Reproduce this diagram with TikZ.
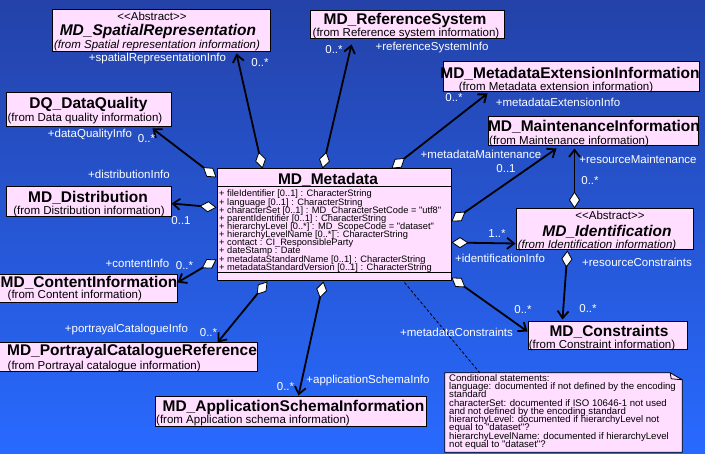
\documentclass[tikz,border=0pt]{standalone}
\usepackage{fontspec}
\setmainfont{Liberation Sans}[Ligatures=TeXOff]
\usetikzlibrary{arrows.meta}
\definecolor{bgtop}{RGB}{36,66,168}
\definecolor{bgbot}{RGB}{40,106,255}
\definecolor{clsfill}{RGB}{255,222,255}
\lineskiplimit=-20pt
\begin{document}
\begin{tikzpicture}[x=1pt,y=-1pt,
 cls/.style={draw=black, line width=1pt, fill=clsfill, inner sep=0pt, rectangle},
 ttl/.style={font=\bfseries\fontsize{15.5}{17}\selectfont, inner sep=0pt, anchor=base},
 ttli/.style={font=\bfseries\itshape\fontsize{15.5}{17}\selectfont, inner sep=0pt, anchor=base},
 sub/.style={font=\fontsize{11.5}{13}\selectfont, inner sep=0pt, anchor=base},
 subi/.style={font=\itshape\fontsize{11.5}{13}\selectfont, inner sep=0pt, anchor=base},
 role/.style={text=white, font=\fontsize{11.5}{13}\selectfont, inner sep=0pt, anchor=base},
 attr/.style={font=\fontsize{9.3}{8.15}\selectfont, inner sep=0pt, align=left, anchor=north west},
 notetxt/.style={font=\fontsize{9.6}{8.3}\selectfont, inner sep=0pt, align=left, anchor=north west},
 assoc/.style={line width=1.8pt, {Diamond[fill=white,length=17pt,width=11pt,line width=0.8pt]}-{Straight Barb[length=7pt,width=11pt]}},
]
\useasboundingbox (0,0) rectangle (705,454);
\fill[top color=bgtop, bottom color=bgbot] (0,0) rectangle (705,454);

% class boxes
\node[cls, minimum width=218, minimum height=42] (spat) at (161,31) {};
\node[cls, minimum width=165, minimum height=34] (dq) at (88.5,110) {};
\node[cls, minimum width=194, minimum height=28] (ref) at (407,25) {};
\node[cls, minimum width=256, minimum height=30] (ext) at (571,77) {};
\node[cls, minimum width=210, minimum height=29] (maint) at (593,131.5) {};
\node[cls, minimum width=177, minimum height=41] (ident) at (604.5,229.5) {};
\node[cls, minimum width=159, minimum height=28] (constr) at (607.5,336) {};
\node[cls, minimum width=165, minimum height=30] (dist) at (88.5,202) {};
\node[cls, minimum width=179, minimum height=28] (cont) at (87.5,289) {};
\node[cls, minimum width=259, minimum height=29] (portr) at (127.5,357.5) {};
\node[cls, minimum width=271, minimum height=30] (app) at (290.5,412) {};
\node[cls, minimum width=234, minimum height=112] (meta) at (334,225) {};
\draw[line width=1pt] ([shift={(0,18)}]meta.north west) -- ([shift={(0,18)}]meta.north east);
\draw[line width=1pt] ([shift={(0,-9)}]meta.south west) -- ([shift={(0,-9)}]meta.south east);

% class texts
\node[sub] (spatA) at (152,21) {<<Abstract>>};
\node[ttli] (spatT) at (158,36) {MD\_SpatialRepresentation};
\node[subi] (spatS) at (157,48.5) {(from Spatial representation information)};
\node[ttl] (dqT) at (88.5,109) {DQ\_DataQuality};
\node[sub] (dqS) at (85,122) {(from Data quality information)};
\node[ttl] (refT) at (405,25) {MD\_ReferenceSystem};
\node[sub] (refS) at (406,37) {(from Reference system information)};
\node[ttl] (extT) at (570,79) {MD\_MetadataExtensionInformation};
\node[sub] (extS) at (556,91) {(from Metadata extension information)};
\node[ttl] (maintT) at (594,132) {MD\_MaintenanceInformation};
\node[sub, anchor=base west] (maintS) at (489,145) {(from Maintenance information)};
\node[sub] (identA) at (610,220) {<<Abstract>>};
\node[ttli] (identT) at (607,237) {MD\_Identification};
\node[subi] (identS) at (597,249) {(from Identification information)};
\node[ttl] (constrT) at (609,337) {MD\_Constraints};
\node[sub] (constrS) at (602,349) {(from Constraint information)};
\node[ttl] (distT) at (88,202.5) {MD\_Distribution};
\node[sub] (distS) at (89,215) {(from Distribution information)};
\node[ttl] (contT) at (89,288) {MD\_ContentInformation};
\node[sub, anchor=base west] (contS) at (7.5,299) {(from Content information)};
\node[ttl] (portrT) at (132,356) {MD\_PortrayalCatalogueReference};
\node[sub, anchor=base west] (portrS) at (7.5,370) {(from Portrayal catalogue information)};
\node[ttl] (appT) at (293.5,412) {MD\_ApplicationSchemaInformation};
\node[sub, anchor=base west] (appS) at (156,424) {(from Application schema information)};
\node[ttl] (metaT) at (328,185) {MD\_Metadata};
\node[attr] (metaA) at (219,190) {+ fileIdentifier [0..1] : CharacterString\\
+ language [0..1] : CharacterString\\
+ characterSet [0..1] : MD\_CharacterSetCode = "utf8"\\
+ parentIdentifier [0..1] : CharacterString\\
+ hierarchyLevel [0..*] : MD\_ScopeCode = "dataset"\\
+ hierarchyLevelName [0..*] : CharacterString\\
+ contact : CI\_ResponsibleParty\\
+ dateStamp : Date\\
+ metadataStandardName [0..1] : CharacterString\\
+ metadataStandardVersion [0..1] : CharacterString};

% note
\node[minimum width=237, minimum height=79, inner sep=0pt] (note) at (563.5,412.5) {};
\filldraw[fill=clsfill, line width=0.8pt] (note.south west) -- (note.north west) -- ([shift={(-12,0)}]note.north east) -- ([shift={(0,7)}]note.north east) -- (note.south east) -- cycle;
\draw[line width=0.8pt] ([shift={(-12,0)}]note.north east) -- ([shift={(-11,6)}]note.north east) -- ([shift={(0,7)}]note.north east);
\node[notetxt] (noteT) at (449,374) {Conditional statements:\\
language: documented if not defined by the encoding\\
standard\\
characterSet: documented if ISO 10646-1 not used\\
and not defined by the encoding standard\\
hierarchyLevel: documented if hierarchyLevel not\\
equal to "dataset"?\\
hierarchyLevelName: documented if hierarchyLevel\\
not equal to "dataset"?};
\draw[line width=0.8pt, dash pattern=on 3pt off 2pt] ([shift={(188,1)}]meta.south west) -- ([shift={(35,0)}]note.north west);

% associations
\draw[assoc] ([shift={(46,0)}]meta.north west) -- ([shift={(185,1)}]spat.south west);
\draw[assoc] ([shift={(106,0)}]meta.north west) -- ([shift={(42,5)}]ref.south west);
\draw[assoc] ([shift={(175,0)}]meta.north west) -- ([shift={(45,1)}]ext.south west);
\draw[assoc] ([shift={(0,53)}]meta.north east) -- ([shift={(69,2)}]maint.south west);
\draw[assoc] ([shift={(0,74)}]meta.north east) -- ([shift={(0,-7)}]ident.south west);
\draw[assoc] ([shift={(59,0)}]ident.north west) -- ([shift={(87,2)}]maint.south west);
\draw[assoc] ([shift={(52,0)}]ident.south west) -- ([shift={(35,-2)}]constr.north west);
\draw[assoc] ([shift={(0,-4)}]meta.south east) -- ([shift={(0,10)}]constr.north west);
\draw[assoc] ([shift={(0,39)}]meta.north west) -- ([shift={(0,17)}]dist.north east);
\draw[assoc] ([shift={(0,91)}]meta.north west) -- ([shift={(0,8)}]cont.north east);
\draw[assoc] ([shift={(0,9)}]meta.north west) -- ([shift={(147,1)}]dq.south west);
\draw[assoc] ([shift={(51,0)}]meta.south west) -- ([shift={(220,0)}]portr.north west);
\draw[assoc] ([shift={(107,0)}]meta.south west) -- ([shift={(144,-1)}]app.north west);

% role labels
\node[role] (l1) at (157.5,62) {+spatialRepresentationInfo};
\node[role] (m1) at (260,66.7) {0..*};
\node[role] (l2) at (90,138) {+dataQualityInfo};
\node[role] (m2) at (146.5,143) {0..*};
\node[role] (l3) at (432,50.7) {+referenceSystemInfo};
\node[role] (m3) at (334,54) {0..*};
\node[role] (l4) at (558,106.7) {+metadataExtensionInfo};
\node[role] (m4) at (454,101.7) {0..*};
\node[role] (l5) at (481,158.3) {+metadataMaintenance};
\node[role] (m5) at (506,173) {0..1};
\node[role] (l6) at (638,163.3) {+resourceMaintenance};
\node[role] (m6) at (590,185) {0..*};
\node[role] (m7) at (497,237.7) {1..*};
\node[role] (l7) at (500,263) {+identificationInfo};
\node[role] (l8) at (637,267) {+resourceConstraints};
\node[role] (m8) at (588,312.7) {0..*};
\node[role] (l9) at (456.5,337) {+metadataConstraints};
\node[role] (m9) at (523,314) {0..*};
\node[role] (l10) at (129,179) {+distributionInfo};
\node[role] (m10) at (181,225) {0..1};
\node[role] (l11) at (137.5,267.7) {+contentInfo};
\node[role] (m11) at (184.5,270) {0..*};
\node[role] (l12) at (126.5,332.7) {+portrayalCatalogueInfo};
\node[role] (m12) at (208.5,336.7) {0..*};
\node[role] (l13) at (368,384) {+applicationSchemaInfo};
\node[role] (m13) at (285.5,391) {0..*};
\end{tikzpicture}
\end{document}
